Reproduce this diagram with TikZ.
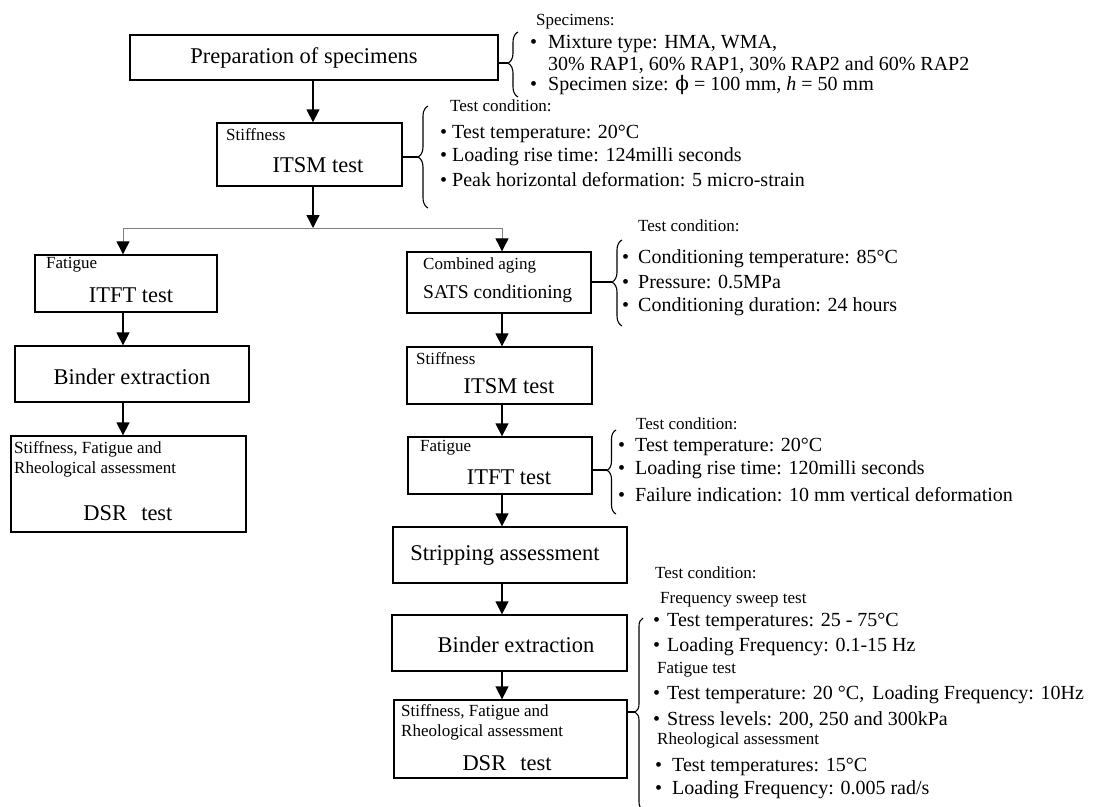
\documentclass[tikz,border=0pt]{standalone}
\usepackage{fontspec}
\setmainfont{Liberation Serif}
\newfontfamily\symfont{DejaVu Serif}
\usetikzlibrary{arrows.meta,decorations.pathreplacing}
\newcommand{\bitem}[2][15pt]{\makebox[#1][l]{\textbullet}#2}
\begin{document}
\begin{tikzpicture}[x=1pt,y=-1pt,
  box/.style={draw, line width=1.3pt, inner sep=0pt, rectangle},
  big/.style={font=\fontsize{22.5}{26}\selectfont, inner sep=0pt},
  itm/.style={font=\fontsize{20}{24}\selectfont, anchor=west, inner sep=0pt},
  sml/.style={font=\fontsize{17}{20}\selectfont, anchor=west, inner sep=0pt},
  arr/.style={line width=1.3pt, -{Triangle[length=13pt,width=13pt]}},
  garr/.style={line width=0.9pt, draw=gray, -{Triangle[length=13pt,width=13pt,color=black]}},
  gline/.style={line width=0.9pt, draw=gray},
  link/.style={line width=1.1pt},
  brc/.style={decorate, decoration={brace, amplitude=9pt}, line width=1.1pt},
]
\useasboundingbox (0,0) rectangle (1099,806);

% ---------------- boxes ----------------
\node[box, minimum width=368pt, minimum height=45pt] (prep)   at (314,57.5) {};
\node[box, minimum width=185pt, minimum height=63pt] (itsmA)  at (309.5,154.5) {};
\node[box, minimum width=182pt, minimum height=57pt] (itftL)  at (126,283.5) {};
\node[box, minimum width=234pt, minimum height=56pt] (bindL)  at (132,374) {};
\node[box, minimum width=235pt, minimum height=96pt] (dsrL)   at (128.5,484) {};
\node[box, minimum width=184pt, minimum height=61pt] (sats)   at (499,282.5) {};
\node[box, minimum width=185pt, minimum height=57pt] (itsmB)  at (499.5,375.5) {};
\node[box, minimum width=184pt, minimum height=57pt] (itftR)  at (500,465.5) {};
\node[box, minimum width=234pt, minimum height=56pt] (strip)  at (510,555) {};
\node[box, minimum width=235pt, minimum height=56pt] (bindR)  at (509.5,643) {};
\node[box, minimum width=233pt, minimum height=78pt] (dsrR)   at (510.5,739) {};

% ---------------- box texts ----------------
\node[big] (tprep) at (304,58) {Preparation of specimens};
\node[sml] (tA1) at (226,135) {Stiffness};
\node[big] (tA2) at (318,165) {ITSM test};
\node[sml] (tL1) at (46,265) {Fatigue};
\node[big] (tL2) at (131,295) {ITFT test};
\node[big] (tL3) at (132,377) {Binder extraction};
\node[sml] (tL4) at (14,449) {Stiffness, Fatigue and};
\node[sml] (tL5) at (14,469) {Rheological assessment};
\node[big] (tL6) at (128,513) {DSR\hspace{14pt}test};
\node[sml] (tR1) at (423,265) {Combined aging};
\node[font=\fontsize{19.5}{23}\selectfont, anchor=west, inner sep=0pt] (tR2) at (423,294) {SATS conditioning};
\node[sml] (tR3) at (416,359) {Stiffness};
\node[big] (tR4) at (509,386) {ITSM test};
\node[sml] (tR5) at (420,448) {Fatigue};
\node[big] (tR6) at (509,477) {ITFT test};
\node[big] (tR7) at (505,555) {Stripping assessment};
\node[big] (tR8) at (516,645) {Binder extraction};
\node[sml] (tR9) at (401,712) {Stiffness, Fatigue and};
\node[sml] (tR10) at (401,732) {Rheological assessment};
\node[big] (tR11) at (507,763) {DSR\hspace{14pt}test};

% ---------------- arrows ----------------
\coordinate (trunk) at (313,228);
\coordinate (brL) at (123,228);
\coordinate (brR) at (502,228);
\draw[arr] (prep.south -| trunk) -- (trunk |- itsmA.north);
\draw[arr] (itsmA.south -| trunk) -- (trunk);
\draw[gline] (brL) -- (brR);
\draw[garr] (brL) -- (brL |- itftL.north);
\draw[garr] (brR) -- (brR |- sats.north);
\draw[arr] (itftL.south -| brL) -- (brL |- bindL.north);
\draw[arr] (bindL.south -| brL) -- (brL |- dsrL.north);
\draw[arr] (sats.south -| brR) -- (brR |- itsmB.north);
\draw[arr] (itsmB.south -| brR) -- (brR |- itftR.north);
\draw[arr] (itftR.south -| brR) -- (brR |- strip.north);
\draw[arr] (strip.south -| brR) -- (brR |- bindR.north);
\draw[arr] (bindR.south -| brR) -- (brR |- dsrR.north);

% ---------------- braces ----------------
\coordinate (kP) at (508,63);
\draw[link] (prep.east |- kP) -- (kP);
\draw[brc, decoration={aspect=0.52, amplitude=10pt}] (518,97) -- (518,32);

\coordinate (kA) at (418,157);
\draw[link] (itsmA.east |- kA) -- (kA);
\draw[brc, decoration={aspect=0.5, amplitude=10pt}] (428,208) -- (428,106);

\coordinate (kS) at (612,282);
\draw[link] (sats.east |- kS) -- (kS);
\draw[brc, decoration={aspect=0.51, amplitude=10pt}] (622,326) -- (622,240);

\coordinate (kF) at (607,470);
\draw[link] (itftR.east |- kF) -- (kF);
\draw[brc, decoration={aspect=0.52, amplitude=9pt}] (616,514) -- (616,430);

\coordinate (kD) at (635,712);
\draw[link] (dsrR.east |- kD) -- (kD);
\draw[brc, decoration={aspect=0.51, amplitude=8pt}] (643,810) -- (643,618);

% ---------------- condition texts ----------------
\node[sml] (sp0) at (536,22) {Specimens:};
\node[itm] (sp1) at (530,44) {\bitem[18pt]{Mixture type: HMA, WMA,}};
\node[itm] (sp2) at (548,65) {30\% RAP1, 60\% RAP1, 30\% RAP2 and 60\% RAP2};
\node[itm] (sp3) at (530,85) {\bitem[18pt]{Specimen size: {\symfont ϕ} = 100 mm, \textit{h} = 50 mm}};

\node[sml] (ca0) at (450,106) {Test condition:};
\node[itm] (ca1) at (440,134) {\bitem[12pt]{Test temperature: 20°C}};
\node[itm] (ca2) at (440,157) {\bitem[12pt]{Loading rise time: 124milli seconds}};
\node[itm] (ca3) at (440,180) {\bitem[12pt]{Peak horizontal deformation: 5 micro-strain}};

\node[sml] (cb0) at (638,226) {Test condition:};
\node[itm] (cb1) at (622,259) {\bitem[16pt]{Conditioning temperature: 85°C}};
\node[itm] (cb2) at (622,282) {\bitem[16pt]{Pressure: 0.5MPa}};
\node[itm] (cb3) at (622,307) {\bitem[16pt]{Conditioning duration: 24 hours}};

\node[sml] (cc0) at (636,424) {Test condition:};
\node[itm] (cc1) at (618,447) {\bitem[17pt]{Test temperature: 20°C}};
\node[itm] (cc2) at (618,470) {\bitem[17pt]{Loading rise time: 120milli seconds}};
\node[itm] (cc3) at (618,495) {\bitem[17pt]{Failure indication: 10 mm vertical deformation}};

\node[sml] (cd0) at (655,573) {Test condition:};
\node[sml] (cd1) at (660,600) {Frequency sweep test};
\node[itm] (cd2) at (653,622) {\bitem[14pt]{Test temperatures: 25 - 75°C}};
\node[itm] (cd3) at (653,647) {\bitem[14pt]{Loading Frequency: 0.1-15 Hz}};
\node[sml] (cd4) at (657,670) {Fatigue test};
\node[itm] (cd5) at (653,695) {\bitem[14pt]{Test temperature: 20 °C,\hspace{8pt}Loading Frequency: 10Hz}};
\node[itm] (cd6) at (653,720) {\bitem[14pt]{Stress levels: 200, 250 and 300kPa}};
\node[sml] (cd7) at (657,740) {Rheological assessment};
\node[itm] (cd8) at (655,767) {\bitem[17pt]{Test temperatures: 15°C}};
\node[itm] (cd9) at (655,790) {\bitem[17pt]{Loading Frequency: 0.005 rad/s}};
\end{tikzpicture}
\end{document}
